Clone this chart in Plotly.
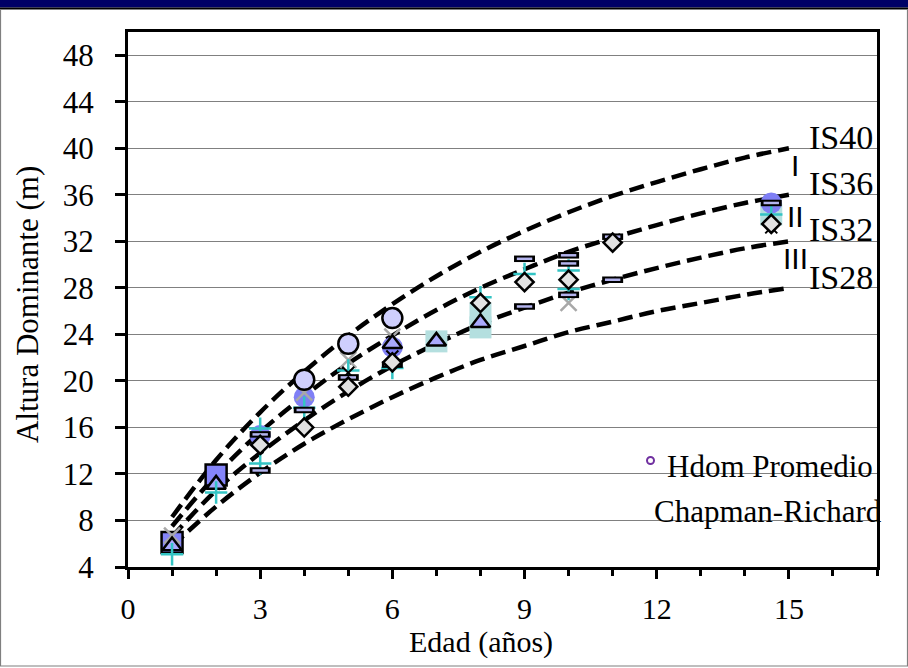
import plotly.graph_objects as go

# ---------------- data ----------------
edad_curva = [1, 2, 3, 4, 5, 6, 7, 8, 9, 10, 11, 12, 13, 14, 15]
is40 = [8.3, 13.2, 17.3, 20.8, 23.9, 26.6, 29.0, 31.1, 32.9, 34.5, 35.9, 37.1, 38.2, 39.2, 40.0]
is36 = [7.5, 11.9, 15.6, 18.7, 21.5, 23.9, 26.1, 28.0, 29.6, 31.1, 32.3, 33.4, 34.4, 35.3, 36.0]
is32 = [6.6, 10.6, 13.8, 16.6, 19.1, 21.3, 23.2, 24.9, 26.3, 27.6, 28.7, 29.7, 30.6, 31.4, 32.0]
is28 = [5.8, 9.2, 12.1, 14.6, 16.7, 18.6, 20.3, 21.8, 23.0, 24.2, 25.1, 26.0, 26.7, 27.4, 28.0]

# plot observations, grouped by marker style
teal_x = [7, 8, 8, 14.6]
teal_y = [23.4, 24.6, 25.8, 34.3]

azul_circ_x = [3, 4, 6, 14.6]
azul_circ_y = [15.3, 18.6, 22.9, 35.3]

cuad_x = [1, 2]
cuad_y = [6.1, 11.9]

x_gris_x = [1, 4, 5, 6, 10]
x_gris_y = [6.7, 19.0, 21.8, 23.8, 26.7]

tri_x = [1, 2, 6, 7, 8]
tri_y = [5.8, 11.1, 23.2, 23.4, 25.0]

cruz_x = [1, 2, 3, 3, 4, 5, 6, 8, 9, 10, 10, 14.6]
cruz_y = [5.1, 10.4, 15.9, 12.9, 17.7, 20.9, 21.1, 27.2, 29.2, 29.5, 27.9, 34.3]

x_negra_x = [5, 6, 14.6]
x_negra_y = [20.7, 22.1, 33.2]

guion_x = [3, 3, 4, 5, 6, 9, 9, 10, 10, 10, 11, 11, 14.6]
guion_y = [15.4, 12.3, 17.5, 20.3, 21.4, 30.5, 26.4, 30.8, 30.1, 27.4, 28.7, 32.4, 35.3]

diam_x = [3, 4, 5, 6, 8, 9, 10, 11, 14.6]
diam_y = [14.5, 16.0, 19.5, 21.6, 26.7, 28.5, 28.7, 31.9, 33.5]

circ_x = [4, 5, 6]
circ_y = [20.1, 23.2, 25.4]

curvas = [("IS40", is40), ("IS36", is36), ("IS32", is32), ("IS28", is28)]
etiquetas_is = ["IS40", "IS36", "IS32", "IS28"]
etiquetas_is_y = [40.9, 37.0, 33.0, 28.9]
clases = ["I", "II", "III"]
clases_y = [38.5, 34.1, 30.5]

x_ticks = [0, 3, 6, 9, 12, 15]
y_ticks = [4, 8, 12, 16, 20, 24, 28, 32, 36, 40, 44, 48]

SERIF = "Liberation Serif"

fig = go.Figure()

for nombre, vals in curvas:
    fig.add_trace(go.Scatter(
        x=edad_curva, y=vals, mode="lines", name=nombre, showlegend=False,
        line=dict(color="#000000", width=4.5, dash="15px,7px", shape="spline"),
        hoverinfo="skip"))

def mk(x, y, symbol, size, color, lcolor=None, lwidth=0, name=""):
    fig.add_trace(go.Scatter(
        x=x, y=y, mode="markers", name=name, showlegend=False, cliponaxis=False,
        marker=dict(symbol=symbol, size=size, color=color,
                    line=dict(color=lcolor if lcolor else color, width=lwidth))))

mk(teal_x, teal_y, "square", 22, "#B4DFDF", name="p1")
mk(azul_circ_x, azul_circ_y, "circle", 21, "#7F7FF5", name="p2")
mk(cuad_x, cuad_y, "square", 21, "#8585FA", "#000000", 2.5, name="p3")
mk(x_gris_x, x_gris_y, "x-thin", 16, "#A8A8A8", "#A8A8A8", 2.5, name="p4")
mk(tri_x, tri_y, "triangle-up", 17, "#A9A9FC", "#000000", 2.5, name="p5")
mk(cruz_x, cruz_y, "cross-thin", 16, "#33C4C4", "#33C4C4", 2.5, name="p6")
mk(x_negra_x, x_negra_y, "x-thin", 12, "#000000", "#000000", 2, name="p7")
mk(guion_x, guion_y, "line-ew", 15, "#000000", "#000000", 6.5, name="p8")
mk(guion_x, guion_y, "line-ew", 11, "#B4B4EE", "#B4B4EE", 2.5, name="p8b")
mk(diam_x, diam_y, "diamond", 14, "#E2E2E2", "#000000", 2.5, name="p9")
mk(circ_x, circ_y, "circle", 20, "#CFCFFD", "#000000", 2.5, name="p10")

annotations = []
for txt, yv in zip(etiquetas_is, etiquetas_is_y):
    annotations.append(dict(x=16.95, y=yv, xref="x", yref="y", text=txt, showarrow=False,
                            xanchor="right", yanchor="middle",
                            font=dict(family=SERIF, size=34, color="#000000")))
for txt, yv in zip(clases, clases_y):
    annotations.append(dict(x=15.15, y=yv, xref="x", yref="y", text=txt, showarrow=False,
                            xanchor="center", yanchor="middle",
                            font=dict(family="Liberation Sans", size=30, color="#000000")))
annotations += [
    dict(x=(665 - 128) / 749, y=(567 - 466) / 535, xref="paper", yref="paper",
         text="Hdom Promedio", showarrow=False, xanchor="left", yanchor="middle",
         font=dict(family=SERIF, size=31, color="#000000")),
    dict(x=(652 - 128) / 749, y=(567 - 511) / 535, xref="paper", yref="paper",
         text="Chapman-Richard", showarrow=False, xanchor="left", yanchor="middle",
         font=dict(family=SERIF, size=31, color="#000000")),
    dict(x=(481 - 128) / 749, y=(567 - 642) / 535, xref="paper", yref="paper",
         text="Edad (años)", showarrow=False, xanchor="center", yanchor="middle",
         font=dict(family=SERIF, size=30, color="#000000")),
    dict(x=(27 - 128) / 749, y=(567 - 305) / 535, xref="paper", yref="paper",
         text="Altura Dominante (m)", showarrow=False, xanchor="center", yanchor="middle",
         textangle=-90, font=dict(family=SERIF, size=31, color="#000000")),
]

def pix_rect(x0, x1, y0, y1, **kw):
    # pixel coordinates relative to plot-area top-left (128, 32); y downward
    d = dict(type="rect", xref="paper", yref="paper", xsizemode="pixel", ysizemode="pixel",
             xanchor=0, yanchor=1, x0=x0 - 128, x1=x1 - 128, y0=32 - y1, y1=32 - y0)
    d.update(kw)
    return d

shapes = [
    pix_rect(-2, 910, -2, 7.5, fillcolor="#000066", line=dict(width=0), layer="above"),
    pix_rect(-2, 910, 7.5, 9, fillcolor="#000000", line=dict(width=0), layer="above"),
    pix_rect(0.5, 907.5, 9.5, 666, fillcolor="rgba(0,0,0,0)",
             line=dict(color="#7F7F7F", width=1.2), layer="below"),
]
ring = dict(type="circle", xref="paper", yref="paper", xsizemode="pixel", ysizemode="pixel",
            xanchor=0, yanchor=1, x0=647 - 128, x1=654 - 128, y0=32 - 464, y1=32 - 457,
            line=dict(color="#7030A0", width=2), fillcolor="rgba(0,0,0,0)")
shapes.append(ring)

fig.update_layout(
    width=908, height=668,
    margin=dict(l=128, r=31, t=32, b=101),
    paper_bgcolor="#FFFFFF", plot_bgcolor="#FFFFFF",
    showlegend=False,
    annotations=annotations, shapes=shapes,
    xaxis=dict(range=[0, 17], tickvals=x_ticks, ticktext=[str(v) for v in x_ticks],
               showgrid=False, zeroline=False,
               showline=True, linecolor="#000000", linewidth=3, mirror=True,
               ticks="outside", ticklen=9, tickwidth=3, tickcolor="#000000",
               minor=dict(dtick=1, tick0=0, ticks="outside", ticklen=6, tickwidth=2.5,
                          tickcolor="#000000", showgrid=False),
               ticklabelstandoff=4,
               tickfont=dict(family=SERIF, size=30, color="#000000")),
    yaxis=dict(range=[4, 50], tickvals=y_ticks, ticktext=[str(v) for v in y_ticks],
               showgrid=True, gridcolor="#808080", gridwidth=1, zeroline=False,
               showline=True, linecolor="#000000", linewidth=3, mirror=True,
               ticks="outside", ticklen=10, tickwidth=3, tickcolor="#000000",
               ticklabelstandoff=15,
               tickfont=dict(family=SERIF, size=31, color="#000000")),
)

fig.write_html("out.html", config={"displayModeBar": False},
               post_script="document.body.style.margin='0';document.body.style.overflow='hidden';")
